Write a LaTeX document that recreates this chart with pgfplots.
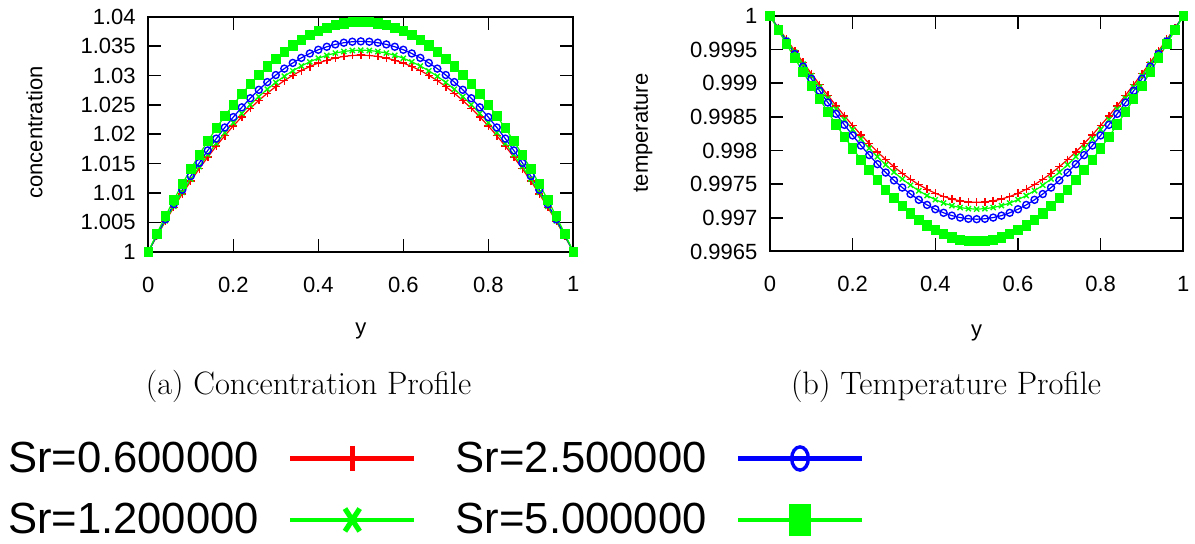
\documentclass[border=0pt]{standalone}
\usepackage{pgfplots}
\pgfplotsset{compat=1.18}
\usepackage{pgfplotstable}
\usepackage{fontspec}
\newfontfamily\hv{Liberation Sans}
\definecolor{lime}{rgb}{0,1,0}

\pgfplotstableread{
y c1 c2 c3 c4 t1 t2 t3 t4
0.00 1 1 1 1 1 1 1 1
0.02 1.00262 1.00269 1.00281 1.00307 0.999826 0.999820 0.999810 0.999790
0.04 1.00514 1.00527 1.00550 1.00601 0.999653 0.999640 0.999622 0.999580
0.06 1.00755 1.00774 1.00808 1.00882 0.999481 0.999462 0.999434 0.999372
0.08 1.00985 1.01010 1.01054 1.01151 0.999311 0.999286 0.999249 0.999167
0.10 1.01204 1.01235 1.01289 1.01408 0.999144 0.999113 0.999067 0.998965
0.12 1.01413 1.01449 1.01512 1.01652 0.998980 0.998944 0.998888 0.998767
0.14 1.01611 1.01652 1.01724 1.01883 0.998821 0.998778 0.998714 0.998574
0.16 1.01798 1.01844 1.01925 1.02102 0.998665 0.998617 0.998545 0.998386
0.18 1.01975 1.02025 1.02114 1.02309 0.998516 0.998462 0.998382 0.998205
0.20 1.02141 1.02195 1.02291 1.02502 0.998372 0.998313 0.998225 0.998031
0.22 1.02296 1.02354 1.02457 1.02684 0.998234 0.998171 0.998075 0.997865
0.24 1.02441 1.02503 1.02612 1.02853 0.998104 0.998035 0.997933 0.997707
0.26 1.02574 1.02640 1.02755 1.03009 0.997981 0.997908 0.997798 0.997558
0.28 1.02697 1.02766 1.02887 1.03153 0.997866 0.997789 0.997673 0.997419
0.30 1.02810 1.02881 1.03007 1.03284 0.997759 0.997678 0.997557 0.997290
0.32 1.02912 1.02986 1.03116 1.03403 0.997661 0.997577 0.997450 0.997172
0.34 1.03003 1.03079 1.03213 1.03510 0.997573 0.997485 0.997354 0.997064
0.36 1.03083 1.03161 1.03299 1.03604 0.997494 0.997403 0.997268 0.996969
0.38 1.03152 1.03232 1.03374 1.03685 0.997424 0.997331 0.997192 0.996885
0.40 1.03211 1.03293 1.03437 1.03754 0.997365 0.997270 0.997128 0.996814
0.42 1.03259 1.03342 1.03488 1.03810 0.997317 0.997220 0.997075 0.996755
0.44 1.03297 1.03381 1.03528 1.03854 0.997279 0.997181 0.997033 0.996709
0.46 1.03324 1.03408 1.03557 1.03885 0.997252 0.997153 0.997004 0.996676
0.48 1.03340 1.03425 1.03574 1.03904 0.997236 0.997136 0.996986 0.996657
0.50 1.03345 1.03430 1.03580 1.03910 0.997230 0.997130 0.996980 0.996650
0.52 1.03340 1.03425 1.03574 1.03904 0.997236 0.997136 0.996986 0.996657
0.54 1.03324 1.03408 1.03557 1.03885 0.997252 0.997153 0.997004 0.996676
0.56 1.03297 1.03381 1.03528 1.03854 0.997279 0.997181 0.997033 0.996709
0.58 1.03259 1.03342 1.03488 1.03810 0.997317 0.997220 0.997075 0.996755
0.60 1.03211 1.03293 1.03437 1.03754 0.997365 0.997270 0.997128 0.996814
0.62 1.03152 1.03232 1.03374 1.03685 0.997424 0.997331 0.997192 0.996885
0.64 1.03083 1.03161 1.03299 1.03604 0.997494 0.997403 0.997268 0.996969
0.66 1.03003 1.03079 1.03213 1.03510 0.997573 0.997485 0.997354 0.997064
0.68 1.02912 1.02986 1.03116 1.03403 0.997661 0.997577 0.997450 0.997172
0.70 1.02810 1.02881 1.03007 1.03284 0.997759 0.997678 0.997557 0.997290
0.72 1.02697 1.02766 1.02887 1.03153 0.997866 0.997789 0.997673 0.997419
0.74 1.02574 1.02640 1.02755 1.03009 0.997981 0.997908 0.997798 0.997558
0.76 1.02441 1.02503 1.02612 1.02853 0.998104 0.998035 0.997933 0.997707
0.78 1.02296 1.02354 1.02457 1.02684 0.998234 0.998171 0.998075 0.997865
0.80 1.02141 1.02195 1.02291 1.02502 0.998372 0.998313 0.998225 0.998031
0.82 1.01975 1.02025 1.02114 1.02309 0.998516 0.998462 0.998382 0.998205
0.84 1.01798 1.01844 1.01925 1.02102 0.998665 0.998617 0.998545 0.998386
0.86 1.01611 1.01652 1.01724 1.01883 0.998821 0.998778 0.998714 0.998574
0.88 1.01413 1.01449 1.01512 1.01652 0.998980 0.998944 0.998888 0.998767
0.90 1.01204 1.01235 1.01289 1.01408 0.999144 0.999113 0.999067 0.998965
0.92 1.00985 1.01010 1.01054 1.01151 0.999311 0.999286 0.999249 0.999167
0.94 1.00755 1.00774 1.00808 1.00882 0.999481 0.999462 0.999434 0.999372
0.96 1.00514 1.00527 1.00550 1.00601 0.999653 0.999640 0.999622 0.999580
0.98 1.00262 1.00269 1.00281 1.00307 0.999826 0.999820 0.999810 0.999790
1.00 1 1 1 1 1 1 1 1
}\data

\pgfplotsset{
  gp/.style={
    scale only axis, xmin=0, xmax=1, clip=false,
    axis line style={line width=1pt, black},
    tick align=inside, tick pos=both,
    major tick length=6.5pt,
    major tick style={black, line width=0.8pt},
    xtick={0,0.2,0.4,0.6,0.8,1},
    xticklabels={0,0.2,0.4,0.6,0.8,1},
    tick label style={font=\hv\fontsize{11}{13}\selectfont},
    label style={font=\hv\fontsize{11}{13}\selectfont},
    xticklabel style={yshift=-9pt},
    yticklabel style={xshift=-2.8pt},
    scaled ticks=false,
    /pgf/number format/assume math mode=true,
  },
  pr/.style={red, line width=0.6pt, mark=+, mark size=2pt, mark options={line width=0.7pt}},
  pg/.style={lime, line width=0.6pt, mark=x, mark size=1.8pt, mark options={line width=0.7pt}},
  pb/.style={blue, line width=0.6pt, mark=o, mark size=1.75pt, mark options={line width=0.7pt}},
  ps/.style={lime, line width=0.6pt, mark=square*, mark size=2.25pt, mark options={xscale=0.92, fill=lime, draw=lime}},
}

\begin{document}
\begin{tikzpicture}
\path[use as bounding box] (0,0) rectangle (597.5pt,272pt);

\begin{axis}[gp,
  at={(74.15pt,146.15pt)}, anchor=south west,
  width=212.5pt, height=117.5pt,
  ymin=1, ymax=1.04,
  ytick={1,1.005,1.01,1.015,1.02,1.025,1.03,1.035,1.04},
  yticklabels={1,1.005,1.01,1.015,1.02,1.025,1.03,1.035,1.04},
  xlabel={y}, ylabel={concentration},
  xlabel style={at={(axis description cs:0.5,-0.337)}, anchor=center},
  ylabel style={at={(axis description cs:-0.268,0.507)}, anchor=center},
  legend image code/.code={\draw[mark repeat=2,mark phase=2,#1] plot coordinates {(0pt,0pt) (31pt,0pt) (62pt,0pt)};},
  legend style={draw=none, fill=none, inner sep=0pt, outer sep=0pt,
    at={(axis description cs:-0.3301,-1.2126)}, anchor=south west,
    font=\hv\fontsize{21.8}{26}\selectfont, row sep=14pt,
    nodes={inner sep=0pt},
    /tikz/every odd column/.append style={column sep=14.5pt},
    /tikz/every even column/.append style={column sep=19.5pt}},
  legend columns=2, legend plot pos=right, legend cell align=left,
]
\addlegendimage{red, line width=2.4pt, mark=+, mark size=6.3pt, mark options={line width=2.2pt}}
\addlegendentry{Sr=0.600000}
\addlegendimage{blue, line width=2.4pt, mark=o, mark size=5.8pt, mark options={line width=1.7pt, xscale=0.72}}
\addlegendentry{Sr=2.500000}
\addlegendimage{lime, line width=2.4pt, mark=x, mark size=8pt, mark options={line width=2.6pt, xscale=0.65}}
\addlegendentry{Sr=1.200000}
\addlegendimage{lime, line width=2.4pt, mark=square*, mark size=7pt, mark options={xscale=0.6, fill=lime, draw=lime}}
\addlegendentry{Sr=5.000000}

\addplot[pr, forget plot] table[x=y, y=c1] {\data};
\addplot[pg, forget plot] table[x=y, y=c2] {\data};
\addplot[pb, forget plot] table[x=y, y=c3] {\data};
\addplot[ps, forget plot] table[x=y, y=c4] {\data};
\end{axis}

\begin{axis}[gp,
  at={(385pt,146.25pt)}, anchor=south west,
  width=206.65pt, height=117.75pt,
  ymin=0.9965, ymax=1,
  ytick={0.9965,0.997,0.9975,0.998,0.9985,0.999,0.9995,1},
  yticklabels={0.9965,0.997,0.9975,0.998,0.9985,0.999,0.9995,1},
  xlabel={y}, ylabel={temperature},
  xlabel style={at={(axis description cs:0.5,-0.346)}, anchor=center},
  ylabel style={at={(axis description cs:-0.307,0.503)}, anchor=center},
]
\addplot[pr] table[x=y, y=t1] {\data};
\addplot[pg] table[x=y, y=t2] {\data};
\addplot[pb] table[x=y, y=t3] {\data};
\addplot[ps] table[x=y, y=t4] {\data};
\end{axis}

\node[font=\fontsize{16.2}{19}\selectfont] at (154.25pt,79pt) {(a) Concentration Profile};
\node[font=\fontsize{16.2}{19}\selectfont] at (473pt,79pt) {(b) Temperature Profile};
\end{tikzpicture}
\end{document}
